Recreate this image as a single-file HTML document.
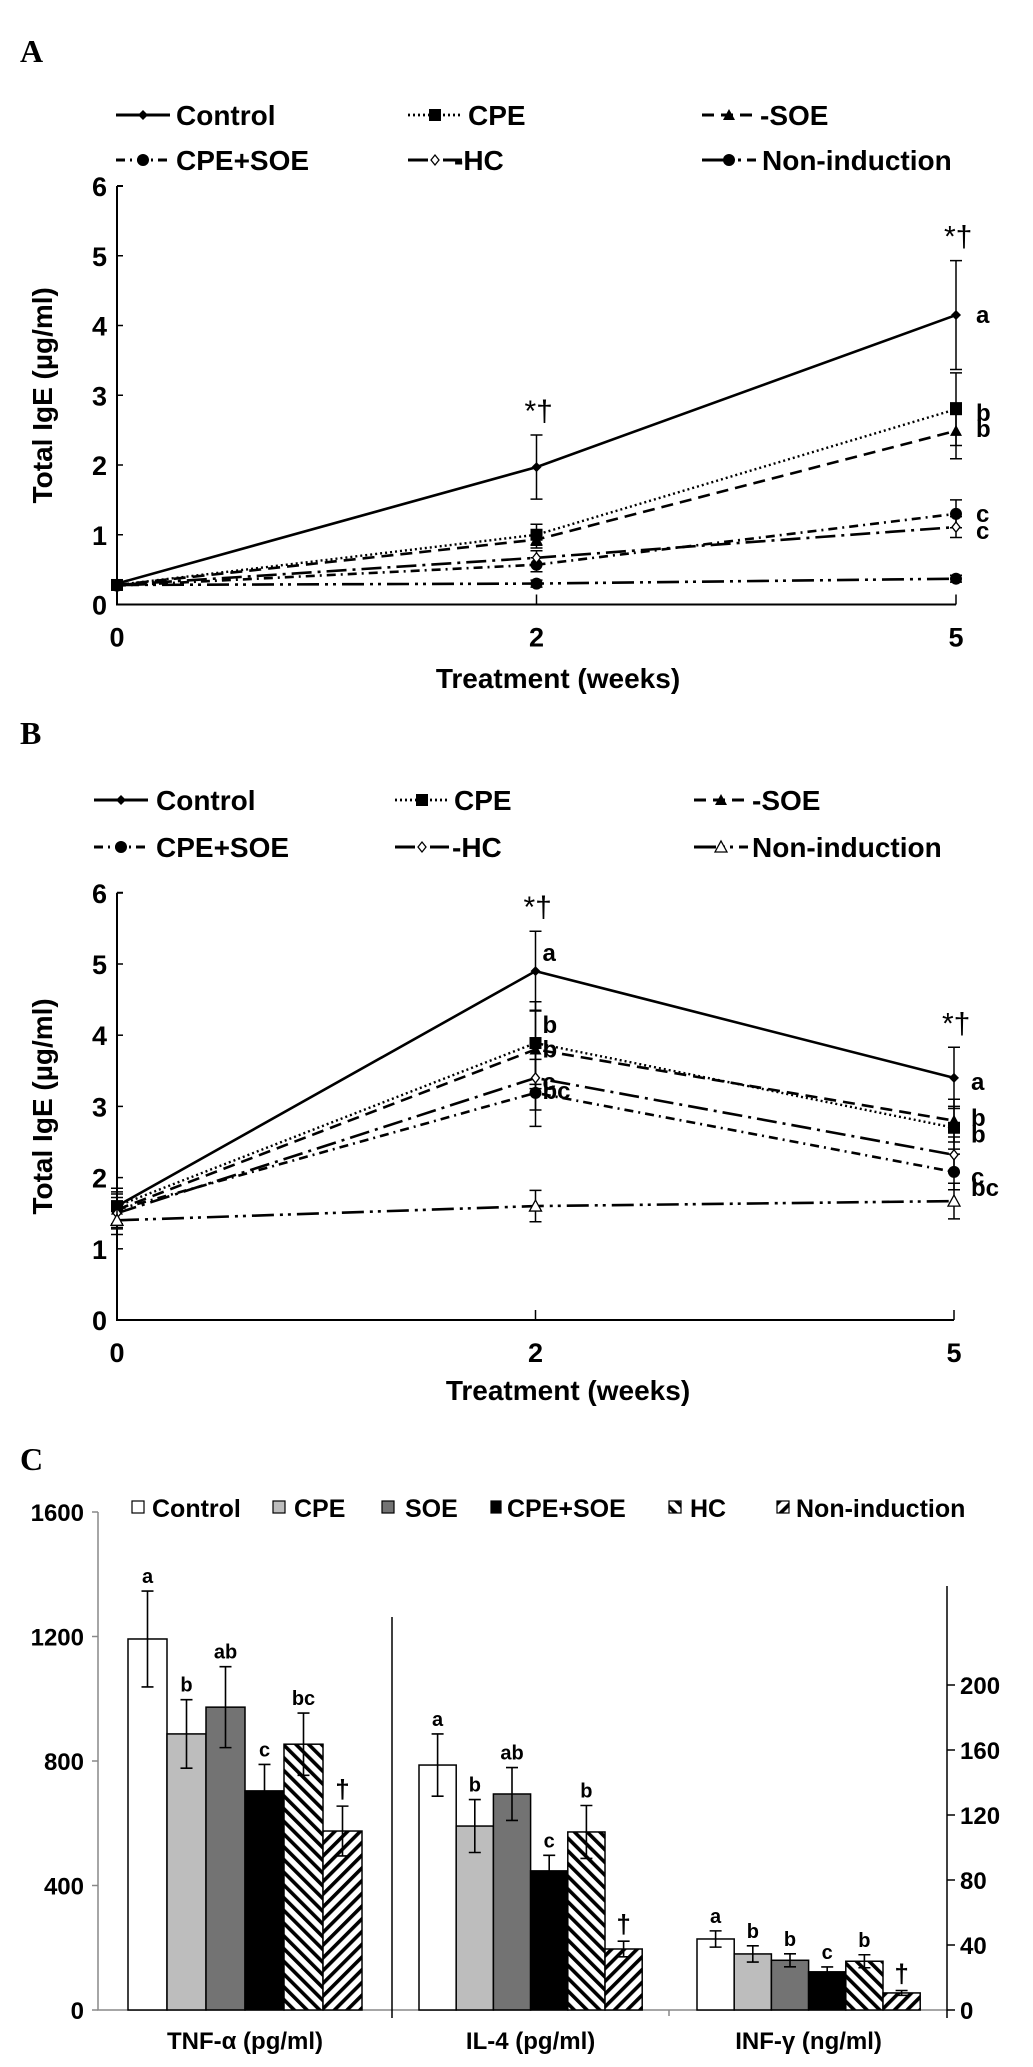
<!DOCTYPE html>
<html><head><meta charset="utf-8"><style>
html,body{margin:0;padding:0;background:#fff;}
svg{display:block;font-family:"Liberation Sans",Arial,sans-serif;}
</style></head><body>
<svg id="fig" width="1033" height="2067" viewBox="0 0 1033 2067" xmlns="http://www.w3.org/2000/svg">
<defs>
<pattern id="hatchHC" patternUnits="userSpaceOnUse" width="9" height="9" patternTransform="rotate(-45)"><rect width="9" height="9" fill="#fff"/><rect x="0" y="0" width="3.6" height="9" fill="#000"/></pattern>
<pattern id="hatchNI" patternUnits="userSpaceOnUse" width="9" height="9" patternTransform="rotate(45)"><rect width="9" height="9" fill="#fff"/><rect x="0" y="0" width="3.6" height="9" fill="#000"/></pattern>
</defs>
<text x="20" y="62" font-family="Liberation Serif,serif" font-weight="bold" font-size="32">A</text>
<text x="20" y="744" font-family="Liberation Serif,serif" font-weight="bold" font-size="32">B</text>
<text x="20" y="1470" font-family="Liberation Serif,serif" font-weight="bold" font-size="32">C</text>
<g id="panelA"></g>
<g id="panelB"></g>
<g id="panelC"></g>
</svg>
<script>
// ---------- data ----------
const weeks = ["0","2","5"];
const seriesNames = ["Control","CPE","SOE","CPE+SOE","HC","Non-induction"];
const yTicksAB = [0,1,2,3,4,5,6];
// Panel A
const aControl = [0.3,1.97,4.15];
const aCPE = [0.28,1.0,2.8];
const aSOE = [0.28,0.93,2.49];
const aCPESOE = [0.27,0.57,1.3];
const aHC = [0.28,0.67,1.11];
const aNon = [0.28,0.3,0.37];
const aErrControl = [0.05,0.46,0.78];
const aErrCPE = [0.04,0.15,0.52];
const aErrSOE = [0.04,0.12,0.4];
const aErrCPESOE = [0.03,0.1,0.2];
const aErrHC = [0.03,0.1,0.15];
const aErrNon = [0.03,0.05,0.05];
const aLetters5 = ["a","b","b","c","c",""];
// Panel B
const bControl = [1.6,4.9,3.4];
const bCPE = [1.6,3.89,2.7];
const bSOE = [1.55,3.8,2.8];
const bCPESOE = [1.55,3.19,2.08];
const bHC = [1.5,3.4,2.32];
const bNon = [1.4,1.6,1.67];
const bErrControl = [0.25,0.56,0.43];
const bErrCPE = [0.25,0.58,0.3];
const bErrSOE = [0.25,0.55,0.3];
const bErrCPESOE = [0.22,0.47,0.25];
const bErrHC = [0.22,0.45,0.25];
const bErrNon = [0.2,0.22,0.25];
const bLetters2 = ["a","b","b","bc","c",""];
const bLetters5 = ["a","b","b","bc","c",""];
// Panel C
const cytokines = ["TNF-α (pg/ml)","IL-4 (pg/ml)","INF-γ (ng/ml)"];
const tnfValues = [1192,887,973,704,854,575];
const tnfErr = [154,110,130,85,100,80];
const il4Values = [787,591,694,447,572,196];
const il4Err = [100,85,85,50,85,25];
const infValues = [43.7,34.5,30.6,23.5,30,10.5];
const infErr = [5,5,4,3,4,1.5];
const tnfLetters = ["a","b","ab","c","bc","†"];
const il4Letters = ["a","b","ab","c","b","†"];
const infLetters = ["a","b","b","c","b","†"];
const leftTicksC = [0,400,800,1200,1600];
const rightTicksC = [0,40,80,120,160,200];

// ---------- helpers ----------
const NS="http://www.w3.org/2000/svg";
function mk(parent,tag,attrs,txt){const e=document.createElementNS(NS,tag);for(const k in attrs)e.setAttribute(k,attrs[k]);if(txt!==undefined)e.textContent=txt;parent.appendChild(e);return e;}

const styles=[
 {dash:"none",w:2.6,marker:"diamond"},
 {dash:"2 3",w:2.4,marker:"square"},
 {dash:"12 7",w:2.6,marker:"triangle"},
 {dash:"9 5 2 5",w:2.6,marker:"circle"},
 {dash:"20 6 3 6",w:2.6,marker:"opendiamond"},
 {dash:"22 6 3 5 3 6",w:2.6,marker:"circle"}
];

function marker(g,type,x,y,name){
  let e;
  if(type==="diamond"){e=mk(g,"path",{d:`M${x-5} ${y}L${x} ${y-5}L${x+5} ${y}L${x} ${y+5}Z`,fill:"#000"});}
  else if(type==="opendiamond"){e=mk(g,"path",{d:`M${x-4} ${y}L${x} ${y-5}L${x+4} ${y}L${x} ${y+5}Z`,fill:"#fff",stroke:"#000","stroke-width":1.3});}
  else if(type==="square"){e=mk(g,"rect",{x:x-6,y:y-6,width:12,height:12,fill:"#000"});}
  else if(type==="triangle"){e=mk(g,"path",{d:`M${x-6} ${y+5}L${x} ${y-6}L${x+6} ${y+5}Z`,fill:"#000"});}
  else if(type==="opentriangle"){e=mk(g,"path",{d:`M${x-6} ${y+5}L${x} ${y-6}L${x+6} ${y+5}Z`,fill:"#fff",stroke:"#000","stroke-width":1.3});}
  else {e=mk(g,"circle",{cx:x,cy:y,r:6,fill:"#000"});}
  
  
}

function lineChart(cfg){
  const g=document.getElementById(cfg.id);
  const xPos=cfg.xPos, y0=cfg.y0, unit=cfg.unit;
  const X=i=>xPos[0]+(xPos[2]-xPos[0])*i/(weeks.length-1);
  const Y=v=>y0-v*unit;
  const ax=mk(g,"path",{d:`M${xPos[0]} ${Y(6)}H${xPos[0]+6}M${xPos[0]} ${Y(6)}V${y0}H${xPos[2]}`,stroke:"#000","stroke-width":2,fill:"none"});
  
  
  yTicksAB.forEach(t=>{
    const tk=mk(g,"line",{x1:xPos[0],x2:xPos[0]+6,y1:Y(t),y2:Y(t),stroke:"#000","stroke-width":1.5});
    
    
    const tl=mk(g,"text",{x:xPos[0]-10,y:Y(t)+10,"text-anchor":"end","font-size":27,"font-weight":"bold"},String(t));
    
    
  });
  weeks.forEach((w,i)=>{
    if(i>0){const tk=mk(g,"line",{x1:X(i),x2:X(i),y1:y0,y2:y0-10,stroke:"#000","stroke-width":1.5});
    
    }
    const tl=mk(g,"text",{x:X(i),y:y0+42,"text-anchor":"middle","font-size":27,"font-weight":"bold"},w);
    
    
  });
  const xt=mk(g,"text",{x:cfg.xTitleX,y:cfg.xTitleY,"text-anchor":"middle","font-size":28,"font-weight":"bold"},"Treatment (weeks)");
  
  
  const yt=mk(g,"text",{x:0,y:0,transform:`translate(52 ${Y(3)}) rotate(-90)`,"text-anchor":"middle","font-size":28,"font-weight":"bold"},"Total IgE (µg/ml)");
  
  
  cfg.series.forEach((s,si)=>{
    const st=styles[si];
    const mType=cfg.markers[si];
    const sg=mk(g,"g",{});
    
    
    const d=s.map((v,i)=>(i?"L":"M")+X(i)+" "+Y(v)).join("");
    mk(sg,"path",{d:d,fill:"none",stroke:"#000","stroke-width":st.w,"stroke-dasharray":st.dash});
    s.forEach((v,i)=>{
      const e=cfg.errs[si][i];
      const eb=mk(sg,"path",{d:`M${X(i)} ${Y(v+e)}V${Y(v-e)}M${X(i)-6} ${Y(v+e)}h12M${X(i)-6} ${Y(v-e)}h12`,stroke:"#000","stroke-width":1.5,fill:"none"});
      
      
      marker(sg,mType,X(i),Y(v),'point');
    });
  });
  cfg.legend.forEach((L,li)=>{
    const st=styles[li];
    const lg=mk(g,"g",{});
    
    
    mk(lg,"line",{x1:L.x,x2:L.x+54,y1:L.y,y2:L.y,stroke:"#000","stroke-width":st.w+0.4,"stroke-dasharray":st.dash==="none"?"none":st.dash});
    marker(lg,cfg.markers[li],L.x+27,L.y,'legend-marker');
    mk(lg,"text",{x:L.tx,y:L.y+10,"font-size":28,"font-weight":"bold"},(li===2||li===4?"-":"")+seriesNames[li]);
  });
  cfg.notes.forEach(n=>{
    const t=mk(g,"text",{x:n[0],y:n[1],"font-size":n[3]||24,"font-weight":n[4]||"bold"},n[2]);
    
    
  });
}

// Panel A
(function(){
  const xPos=[117,535,956], y0=604.5, unit=69.75;
  const X=i=>xPos[0]+(xPos[2]-xPos[0])*i/2, Y=v=>y0-v*unit;
  const aS=[aControl,aCPE,aSOE,aCPESOE,aHC,aNon];
  const notes=[
    [X(1)-12,Y(aControl[1]+aErrControl[1])-14,"*†",30,"normal"],
    [X(2)-12,Y(aControl[2]+aErrControl[2])-14,"*†",30,"normal"]
  ];
  const offs=[0,4,-2,0,4,0];
  aS.forEach((s,i)=>{if(aLetters5[i])notes.push([X(2)+20,Y(s[2])+8+offs[i],aLetters5[i],24,"bold"]);});
  lineChart({id:"panelA",xPos,y0,unit,xTitleX:558,xTitleY:688,
    series:aS,errs:[aErrControl,aErrCPE,aErrSOE,aErrCPESOE,aErrHC,aErrNon],
    markers:["diamond","square","triangle","circle","opendiamond","circle"],
    legend:[{x:116,y:115,tx:176},{x:408,y:115,tx:468},{x:702,y:115,tx:760},
            {x:116,y:160,tx:176},{x:408,y:160,tx:454},{x:702,y:160,tx:762}],
    notes});
})();

// Panel B
(function(){
  const xPos=[117,535,954], y0=1320, unit=71.2;
  const X=i=>xPos[0]+(xPos[2]-xPos[0])*i/2, Y=v=>y0-v*unit;
  const bS=[bControl,bCPE,bSOE,bCPESOE,bHC,bNon];
  const notes=[
    [X(1)-12,Y(bControl[1]+bErrControl[1])-14,"*†",30,"normal"],
    [X(2)-12,Y(bControl[2]+bErrControl[2])-14,"*†",30,"normal"]
  ];
  const off2=[-10,-10,8,6,12,0];
  bS.forEach((s,i)=>{if(bLetters2[i])notes.push([X(1)+7,Y(s[1])+off2[i],bLetters2[i],24,"bold"]);});
  const off5=[12,-2,22,20,30,0];
  bS.forEach((s,i)=>{if(bLetters5[i])notes.push([X(2)+17,Y(s[2])+off5[i]+(i===3?4:0),bLetters5[i],24,"bold"]);});
  lineChart({id:"panelB",xPos,y0,unit,xTitleX:568,xTitleY:1400,
    series:bS,errs:[bErrControl,bErrCPE,bErrSOE,bErrCPESOE,bErrHC,bErrNon],
    markers:["diamond","square","triangle","circle","opendiamond","opentriangle"],
    legend:[{x:94,y:800,tx:156},{x:395,y:800,tx:454},{x:694,y:800,tx:752},
            {x:94,y:847,tx:156},{x:395,y:847,tx:452},{x:694,y:847,tx:752}],
    notes});
})();

// Panel C
(function(){
  const g=document.getElementById("panelC");
  const y0=2010, leftUnit=124.5/400, rightUnit=65/40;
  const YL=v=>y0-v*leftUnit, YR=v=>y0-v*rightUnit;
  const groupStart=[128,419,697], barW=37.2;
  const fills=["#fff","#bdbdbd","#737373","#000","url(#hatchHC)","url(#hatchNI)"];
  let e=mk(g,"path",{d:`M98 ${YL(1600)}V${y0}H947`,stroke:"#888","stroke-width":1.5,fill:"none"});
  
  
  leftTicksC.forEach(t=>{
    const tk=mk(g,"line",{x1:92,x2:98,y1:YL(t),y2:YL(t),stroke:"#888","stroke-width":1.5});
    
    
    const tl=mk(g,"text",{x:84,y:YL(t)+9,"text-anchor":"end","font-size":24,"font-weight":"bold"},String(t));
    
    
  });
  e=mk(g,"line",{x1:947,x2:947,y1:1586,y2:y0+8,stroke:"#000","stroke-width":1.5});
  
  
  rightTicksC.forEach(t=>{
    const tk=mk(g,"line",{x1:947,x2:955,y1:YR(t),y2:YR(t),stroke:"#000","stroke-width":1.5});
    
    
    const tl=mk(g,"text",{x:960,y:YR(t)+9,"font-size":24,"font-weight":"bold"},String(t));
    
    
  });
  e=mk(g,"line",{x1:392,x2:392,y1:1617,y2:y0+8,stroke:"#000","stroke-width":1.5});
  
  
  e=mk(g,"line",{x1:669,x2:669,y1:y0,y2:y0+6,stroke:"#888","stroke-width":1.5});
  
  
  const groups=[[tnfValues,tnfErr,tnfLetters,YL],[il4Values,il4Err,il4Letters,YL],[infValues,infErr,infLetters,YR]];
  const widths=[39,37.2,37.2];
  groups.forEach((gr,gi)=>{
    const [vals,errs,lets,Y]=gr;
    const bw=widths[gi];
    vals.forEach((v,i)=>{
      const x=groupStart[gi]+i*bw;
      const r=mk(g,"rect",{x:x,y:Y(v),width:bw,height:y0-Y(v),fill:fills[i],stroke:"#000","stroke-width":1.5});
      
      
      const cx=x+bw/2, top=Y(v+errs[i]), bot=Y(v-errs[i]);
      const eb=mk(g,"path",{d:`M${cx} ${top}V${bot}M${cx-6} ${top}h12M${cx-6} ${bot}h12`,stroke:"#000","stroke-width":1.6,fill:"none"});
      
      
      const lt=mk(g,"text",{x:cx,y:top-8,"text-anchor":"middle","font-size":lets[i]==="†"?26:20,"font-weight":"bold"},lets[i]);
      
      
    });
    const gl=mk(g,"text",{x:groupStart[gi]+3*bw,y:2049,"text-anchor":"middle","font-size":24,"font-weight":"bold"},cytokines[gi]);
    
    
  });
  const lx=[[132,152],[273,294],[382,405],[491,507],[669,690],[777,796]];
  seriesNames.forEach((n,i)=>{
    const lg=mk(g,"g",{});
    
    
    mk(lg,"rect",{x:lx[i][0],y:1501,width:i===3?10:12,height:12,fill:fills[i],stroke:"#000","stroke-width":1.2});
    mk(lg,"text",{x:lx[i][1],y:1517,"font-size":25,"font-weight":"bold"},n);
  });
})();
</script>
</body></html>
